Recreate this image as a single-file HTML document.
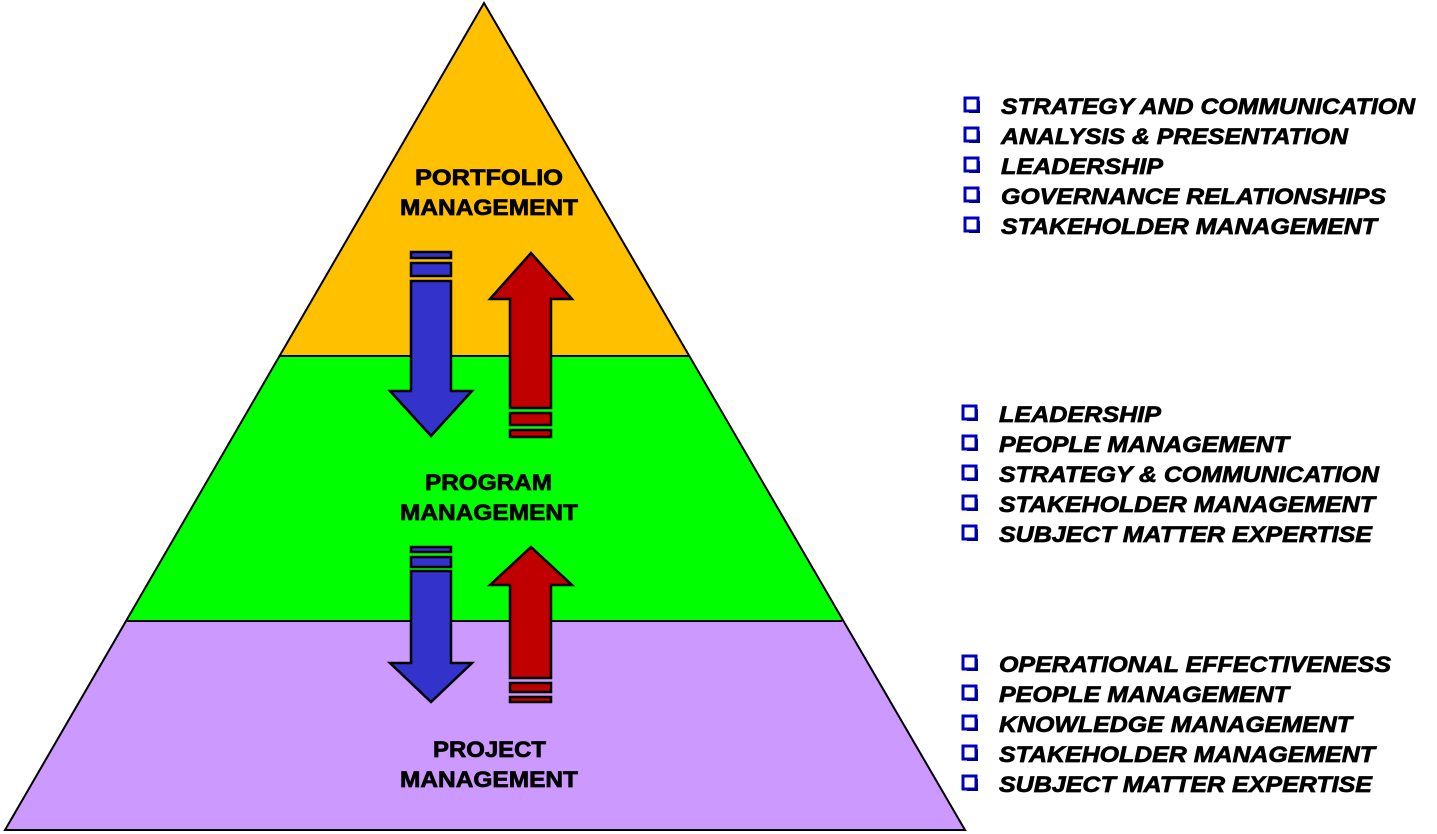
<!DOCTYPE html><html><head><style>body{margin:0;background:#fff}svg{display:block}
.t{font-family:"Liberation Sans",sans-serif;font-weight:bold;font-size:22px;fill:#000;stroke:#000;stroke-width:0.7}
.b{font-family:"Liberation Sans",sans-serif;font-weight:bold;font-style:italic;font-size:22px;fill:#000;stroke:#000;stroke-width:0.7}</style></head><body>
<svg width="1437" height="834" xmlns="http://www.w3.org/2000/svg">
<defs><g id="cb"><rect x="0" y="0" width="13" height="13" fill="#fff" stroke="#0000c0" stroke-width="3"/><rect x="4" y="13" width="11" height="2" fill="#000080"/><rect x="13" y="3" width="2" height="12" fill="#000080"/></g></defs>
<polygon points="484,3 965,830 5,830" fill="#cc99ff"/>
<polygon points="484,3 842,621 127,621" fill="#00ff00"/>
<polygon points="484,3 689,356 280,356" fill="#ffc000"/>
<line x1="280" y1="356" x2="689" y2="356" stroke="#000" stroke-width="2"/>
<line x1="127" y1="621" x2="842" y2="621" stroke="#000" stroke-width="2"/>
<polygon points="484,3 965,830 5,830" fill="none" stroke="#000" stroke-width="2"/>
<g stroke="#000" stroke-width="2.5">
<rect x="411" y="252" width="40" height="6" fill="#3333cc"/>
<rect x="411" y="263" width="40" height="13" fill="#3333cc"/>
<polygon points="411,281 451,281 451,391 472,391 431,436 390,391 411,391" fill="#3333cc"/>
<polygon points="531,253 572,299 551,299 551,408 510,408 510,299 490,299" fill="#c00000"/>
<rect x="510" y="413" width="41" height="12" fill="#c00000"/>
<rect x="510" y="430" width="41" height="7" fill="#c00000"/>

<rect x="411" y="547" width="40" height="5" fill="#3333cc"/>
<rect x="411" y="557" width="40" height="10" fill="#3333cc"/>
<polygon points="411,571 451,571 451,663 472,663 431,702 390,663 411,663" fill="#3333cc"/>
<polygon points="531,547 572,585 551,585 551,678 510,678 510,585 490,585" fill="#c00000"/>
<rect x="510" y="683" width="41" height="9" fill="#c00000"/>
<rect x="510" y="697" width="41" height="5" fill="#c00000"/>
</g>
<text class="t" x="415" y="185" textLength="148" lengthAdjust="spacingAndGlyphs">PORTFOLIO</text>
<text class="t" x="400" y="215" textLength="178" lengthAdjust="spacingAndGlyphs">MANAGEMENT</text>
<text class="t" x="425" y="490" textLength="127" lengthAdjust="spacingAndGlyphs">PROGRAM</text>
<text class="t" x="400" y="520" textLength="178" lengthAdjust="spacingAndGlyphs">MANAGEMENT</text>
<text class="t" x="433" y="757" textLength="113" lengthAdjust="spacingAndGlyphs">PROJECT</text>
<text class="t" x="400" y="787" textLength="178" lengthAdjust="spacingAndGlyphs">MANAGEMENT</text>
<g>
<use href="#cb" x="965" y="98"/><text class="b" x="1001" y="114" textLength="414" lengthAdjust="spacingAndGlyphs">STRATEGY AND COMMUNICATION</text>
<use href="#cb" x="965" y="128"/><text class="b" x="1001" y="144" textLength="347" lengthAdjust="spacingAndGlyphs">ANALYSIS &amp; PRESENTATION</text>
<use href="#cb" x="965" y="158"/><text class="b" x="1001" y="174" textLength="162" lengthAdjust="spacingAndGlyphs">LEADERSHIP</text>
<use href="#cb" x="965" y="188"/><text class="b" x="1001" y="204" textLength="385" lengthAdjust="spacingAndGlyphs">GOVERNANCE RELATIONSHIPS</text>
<use href="#cb" x="965" y="218"/><text class="b" x="1001" y="234" textLength="376" lengthAdjust="spacingAndGlyphs">STAKEHOLDER MANAGEMENT</text>
<use href="#cb" x="963" y="406"/><text class="b" x="999" y="422" textLength="162" lengthAdjust="spacingAndGlyphs">LEADERSHIP</text>
<use href="#cb" x="963" y="436"/><text class="b" x="999" y="452" textLength="290" lengthAdjust="spacingAndGlyphs">PEOPLE MANAGEMENT</text>
<use href="#cb" x="963" y="466"/><text class="b" x="999" y="482" textLength="380" lengthAdjust="spacingAndGlyphs">STRATEGY &amp; COMMUNICATION</text>
<use href="#cb" x="963" y="496"/><text class="b" x="999" y="512" textLength="376" lengthAdjust="spacingAndGlyphs">STAKEHOLDER MANAGEMENT</text>
<use href="#cb" x="963" y="526"/><text class="b" x="999" y="542" textLength="373" lengthAdjust="spacingAndGlyphs">SUBJECT MATTER EXPERTISE</text>
<use href="#cb" x="963" y="656"/><text class="b" x="999" y="672" textLength="392" lengthAdjust="spacingAndGlyphs">OPERATIONAL EFFECTIVENESS</text>
<use href="#cb" x="963" y="686"/><text class="b" x="999" y="702" textLength="290" lengthAdjust="spacingAndGlyphs">PEOPLE MANAGEMENT</text>
<use href="#cb" x="963" y="716"/><text class="b" x="999" y="732" textLength="353" lengthAdjust="spacingAndGlyphs">KNOWLEDGE MANAGEMENT</text>
<use href="#cb" x="963" y="746"/><text class="b" x="999" y="762" textLength="376" lengthAdjust="spacingAndGlyphs">STAKEHOLDER MANAGEMENT</text>
<use href="#cb" x="963" y="776"/><text class="b" x="999" y="792" textLength="373" lengthAdjust="spacingAndGlyphs">SUBJECT MATTER EXPERTISE</text>
</g>
</svg></body></html>
